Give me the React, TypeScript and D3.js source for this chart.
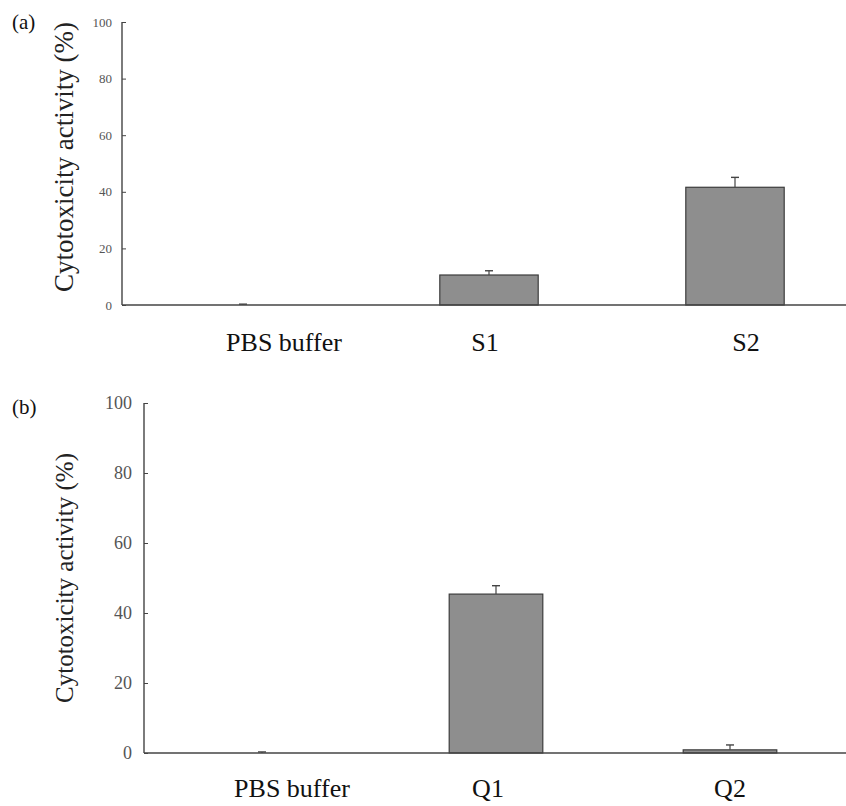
import React, { useRef, useEffect } from "react";
import * as d3 from "d3";

const width = 846;
const height = 806;
const serif = "'Liberation Serif', 'Times New Roman', serif";

// panel (a)
const catsA = ["PBS buffer", "S1", "S2"];
const valsA = [0, 10.6, 41.6];
const errsA = [0.3, 1.5, 3.5];

// panel (b)
const catsB = ["PBS buffer", "Q1", "Q2"];
const valsB = [0, 45.4, 0.9];
const errsB = [0.3, 2.4, 1.4];

const yTicks = [0, 20, 40, 60, 80, 100];
const yLabel = "Cytotoxicity activity (%)";

const panels = [
  {
    tag: "(a)", cats: catsA, vals: valsA, errs: errsA,
    axisX: 122, x0: 120, x1: 858, yTop: 22, yBot: 305,
    tickFont: 13, tickGap: 10, labelOff: [41, -4, 11], labelY: 351, titleY: 157, titleSize: 27, tagY: 29,
  },
  {
    tag: "(b)", cats: catsB, vals: valsB, errs: errsB,
    axisX: 144, x0: 145, x1: 847, yTop: 403, yBot: 753,
    tickFont: 18, tickGap: 12, labelOff: [30, -8, 0], labelY: 797, titleY: 578, titleSize: 25, tagY: 414,
  },
];

const App = () => {
  const ref = useRef(null);

  useEffect(() => {
    const svg = d3.select(ref.current);
    svg.selectAll("*").remove();
    svg.attr("width", width).attr("height", height);
    panels.forEach((p) => draw(svg, p));
  }, []);

  const draw = (svg, p) => {
    const g = svg.append("g");
    const y = d3.scaleLinear().domain([0, 100]).range([p.yBot, p.yTop]);
    const x = d3.scalePoint().domain(p.cats).range([p.x0, p.x1]).padding(0.5);
    const bw = x.step() * 0.4;

    // bars
    g.selectAll("rect.bar")
      .data(p.cats)
      .enter()
      .append("rect")
      .attr("class", "bar")
      .attr("x", (d) => x(d) - bw / 2)
      .attr("y", (d, i) => y(p.vals[i]))
      .attr("width", bw)
      .attr("height", (d, i) => y(0) - y(p.vals[i]))
      .attr("fill", "#8e8e8e")
      .attr("stroke", "#3c3c3c")
      .attr("stroke-width", 1.2);

    // error bars (upper only)
    const eb = g.selectAll("g.err").data(p.cats).enter().append("g").attr("class", "err");
    eb.append("line")
      .attr("x1", (d) => x(d))
      .attr("x2", (d) => x(d))
      .attr("y1", (d, i) => y(p.vals[i]))
      .attr("y2", (d, i) => y(p.vals[i] + p.errs[i]))
      .attr("stroke", "#444")
      .attr("stroke-width", 1.2);
    eb.append("line")
      .attr("x1", (d) => x(d) - 4)
      .attr("x2", (d) => x(d) + 4)
      .attr("y1", (d, i) => y(p.vals[i] + p.errs[i]))
      .attr("y2", (d, i) => y(p.vals[i] + p.errs[i]))
      .attr("stroke", "#444")
      .attr("stroke-width", 1.4);

    // y axis
    const ya = g.append("g")
      .attr("transform", `translate(${p.axisX},0)`)
      .call(d3.axisRight(y).tickValues(yTicks).tickSize(4).tickPadding(0).tickFormat(d3.format("d")));
    ya.select(".domain").remove();
    ya.selectAll("line").attr("stroke", "#444");
    ya.selectAll("text")
      .attr("x", -p.tickGap)
      .attr("text-anchor", "end")
      .attr("font-family", serif)
      .attr("font-size", p.tickFont)
      .attr("fill", "#555");
    g.append("line")
      .attr("x1", p.axisX).attr("x2", p.axisX)
      .attr("y1", y(100)).attr("y2", y(0))
      .attr("stroke", "#444").attr("stroke-width", 1.4);

    // x axis line
    g.append("line")
      .attr("x1", p.axisX).attr("x2", width)
      .attr("y1", y(0)).attr("y2", y(0))
      .attr("stroke", "#444").attr("stroke-width", 1.4);

    // category labels
    g.selectAll("text.cat")
      .data(p.cats)
      .enter()
      .append("text")
      .attr("class", "cat")
      .attr("x", (d, i) => x(d) + p.labelOff[i])
      .attr("y", p.labelY)
      .attr("text-anchor", "middle")
      .attr("font-family", serif)
      .attr("font-size", 26)
      .attr("fill", "#111")
      .text((d) => d);

    // y title
    g.append("text")
      .attr("transform", `translate(73,${p.titleY}) rotate(-90)`)
      .attr("text-anchor", "middle")
      .attr("font-family", serif)
      .attr("font-size", p.titleSize)
      .attr("fill", "#222")
      .text(yLabel);

    // panel tag
    g.append("text")
      .attr("x", 12)
      .attr("y", p.tagY)
      .attr("font-family", serif)
      .attr("font-size", 21)
      .attr("fill", "#111")
      .text(p.tag);
  };

  return (
    <div style={{ position: "absolute", left: 0, top: 0 }}>
      <svg ref={ref} style={{ display: "block", background: "#fff" }}></svg>
    </div>
  );
};

export default App;
